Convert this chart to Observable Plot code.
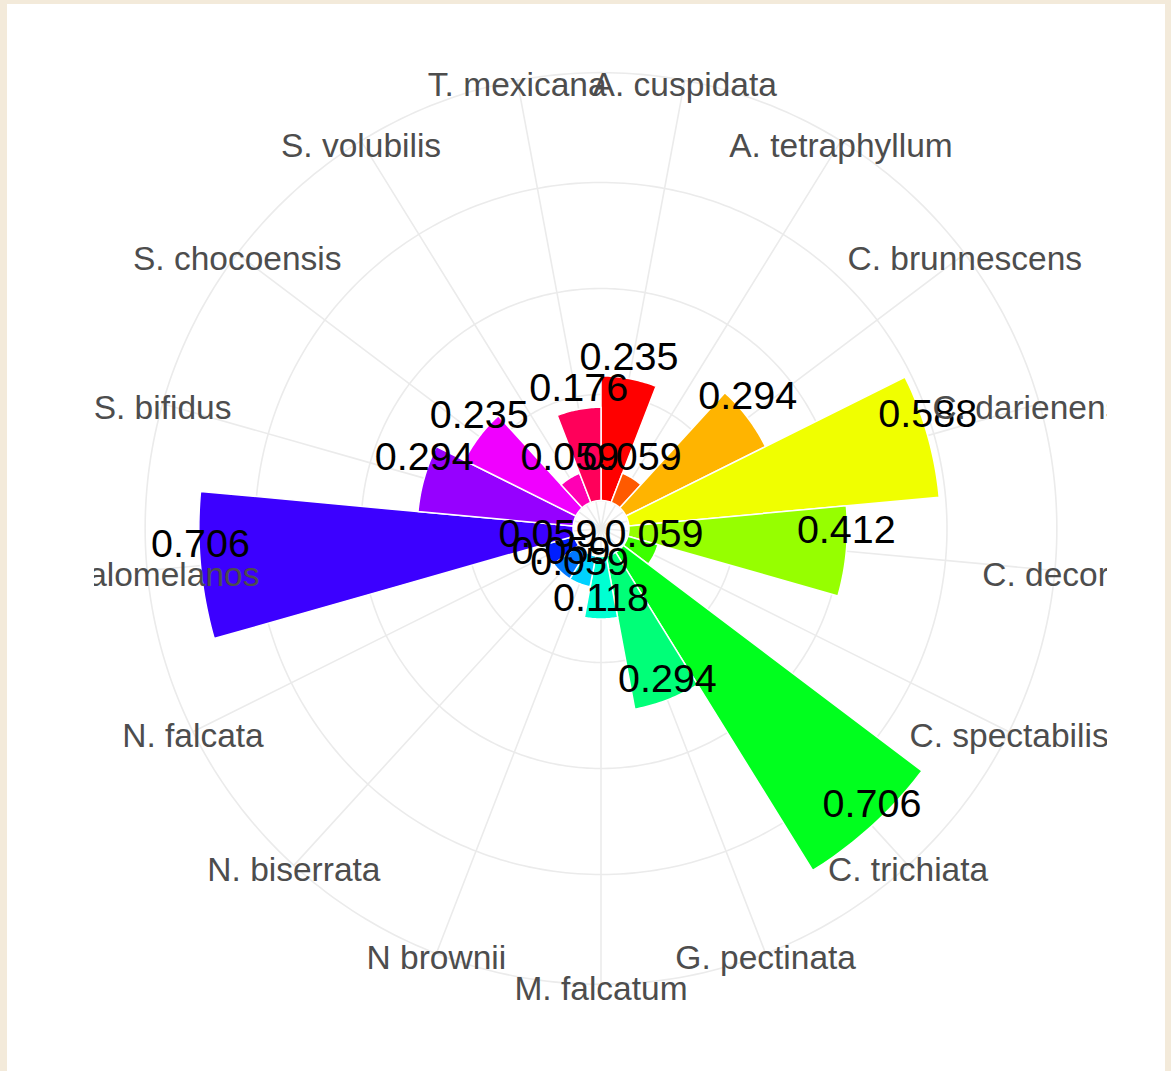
<!DOCTYPE html>
<html>
<head>
<meta charset="utf-8">
<script src="https://cdn.jsdelivr.net/npm/d3@7"></script>
<script src="https://cdn.jsdelivr.net/npm/@observablehq/plot@0.6"></script>
<style>
html, body { margin: 0; padding: 0; background: #F3EADA; width: 1171px; height: 1071px; overflow: hidden; }
#page { position: absolute; left: 7px; top: 4px; width: 1158px; height: 1067px; background: #ffffff; }
#chart { position: absolute; left: 94px; top: 0px; width: 1013px; height: 1071px; overflow: hidden; }
#chart svg { overflow: hidden; }
</style>
</head>
<body>
<div id="page"></div>
<div id="chart"></div>
<script>
// ---- data ----
const species = [
  "A. cuspidata", "A. tetraphyllum", "C. brunnescens", "C. darienensis",
  "C. decora", "C. spectabilis", "C. trichiata", "G. pectinata",
  "M. falcatum", "N brownii", "N. biserrata", "N. falcata",
  "P. calomelanos", "S. bifidus", "S. chocoensis", "S. volubilis", "T. mexicana"
];
const values = [
  0.235, 0.059, 0.294, 0.588,
  0.412, 0.059, 0.706, 0.294,
  0.118, 0.059, 0.059, 0.059,
  0.706, 0.294, 0.235, 0.059, 0.176
];
const yBreaks = [0, 0.2, 0.4, 0.6];
const yLimits = [-0.0528, 0.7117];

// ---- scales (polar layout on an azimuthal-equidistant projection) ----
const palette = d3.range(species.length).map(i => d3.hsl(360 * i / species.length, 1, 0.5).formatHex());
const band = d3.scaleBand().domain(species).range([0, 360]);          // bearing (clockwise from top)
const rho = d3.scaleLinear().domain(yLimits).range([0, 40]);           // radial distance in degrees
const lon = b => 180 - b;
const lat = r => 90 - r;
const lonc = s => lon(band(s) + band.bandwidth() / 2);
const OUTER = 45;

const data = species.map((s, i) => ({species: s, value: values[i]}));

function wedge(d) {
  const a0 = band(d.species), a1 = a0 + band.bandwidth();
  const n = 24;
  const outer = d3.range(n + 1).map(k => [lon(a0 + (a1 - a0) * k / n), lat(rho(d.value))]);
  const inner = d3.range(n + 1).map(k => [lon(a1 - (a1 - a0) * k / n), lat(rho(0))]);
  const ring = outer.concat(inner);
  ring.push(ring[0]);
  return {type: "Feature", properties: {species: d.species}, geometry: {type: "Polygon", coordinates: [ring]}};
}
const circle = r => d3.geoCircle().center([0, 90]).radius(r).precision(1)();

const gridCircles = yBreaks.map(v => circle(rho(v))).concat([circle(OUTER)]);
const spokes = species.map(s => ({type: "LineString", coordinates: [[lonc(s), 89.999], [lonc(s), lat(OUTER)]]}));

const chart = Plot.plot({
  width: 1013,
  height: 1071,
  marginTop: 0, marginRight: 0, marginBottom: 0, marginLeft: 0,
  style: {background: "transparent", fontFamily: "'Liberation Sans', Arial, sans-serif", overflow: "hidden"},
  projection: {
    type: "azimuthal-equidistant",
    rotate: [0, -90],
    domain: circle(50),
    insetTop: 21.5, insetBottom: 36.5, insetLeft: 0, insetRight: 0
  },
  color: {domain: species, range: palette},
  marks: [
    Plot.geo(gridCircles, {fill: "none", stroke: "#EBEBEB", strokeWidth: 1.6}),
    Plot.geo(spokes, {fill: "none", stroke: "#EBEBEB", strokeWidth: 1.6}),
    Plot.geo(data.map(wedge), {fill: d => d.properties.species, stroke: "white", strokeWidth: 1.5}),
    Plot.text(data, {
      x: d => lonc(d.species), y: d => lat(rho(d.value)),
      text: d => d3.format(".3f")(d.value),
      dy: -21, fontSize: 39.5, fill: "black"
    }),
    Plot.text(species, {
      x: s => lonc(s), y: lat(OUTER), text: s => s,
      dy: 5, fontSize: 33.5, fill: "#4D4D4D"
    })
  ]
});
document.getElementById("chart").appendChild(chart);
</script>
</body>
</html>
